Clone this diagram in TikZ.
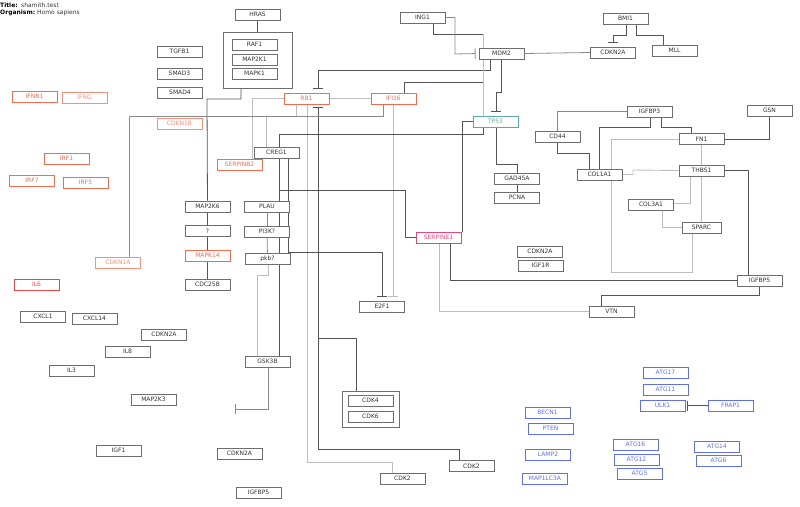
\documentclass[tikz,border=0pt]{standalone}
\usepackage{fontspec}
\setmainfont{DejaVu Sans}
\usetikzlibrary{arrows.meta, backgrounds}

\definecolor{boxgray}{HTML}{6E6E6E}
\definecolor{txtgray}{HTML}{333333}
\definecolor{salmon}{HTML}{F26B4C}
\definecolor{salmonlt}{HTML}{F5917A}
\definecolor{ilred}{HTML}{EC4545}
\definecolor{serpred}{HTML}{E8457A}
\definecolor{tealc}{HTML}{5FA8A8}
\definecolor{atgblue}{HTML}{5F6FEE}
\definecolor{dkline}{HTML}{555555}
\definecolor{ltline}{HTML}{BDBDBD}
\definecolor{mdline}{HTML}{8A8A8A}

\tikzset{
  gene/.style={draw=boxgray, fill=white, line width=0.7pt, minimum width=45pt,
    minimum height=11pt, inner sep=0pt, text=txtgray},
  redgene/.style={gene, draw=salmon, text=salmon},
  palegene/.style={gene, draw=salmonlt, text=salmonlt},
  bluegene/.style={gene, draw=atgblue, text=atgblue},
  grpbox/.style={draw=boxgray, fill=white, line width=0.7pt, inner sep=0pt},
  dk/.style={draw=dkline, line width=0.8pt},
  lt/.style={draw=ltline, line width=0.9pt},
  md/.style={draw=mdline, line width=0.8pt},
  inh/.style={-{Bar[width=10pt, line width=0.9pt]}}
}

\begin{document}
\begin{tikzpicture}[x=1pt, y=-1pt, font=\fontsize{6}{7}\selectfont]
\useasboundingbox (0,0) rectangle (800,506);

% Title
\node[anchor=base west, inner sep=0pt] (ttl) at (0,7) {\textbf{Title:}};
\node[anchor=base west, inner sep=0pt, text=txtgray] (ttlv) at (21,7) {shamith.test};
\node[anchor=base west, inner sep=0pt] (org) at (0,14.5) {\textbf{Organism:}};
\node[anchor=base west, inner sep=0pt, text=txtgray] (orgv) at (37,14.5) {Homo sapiens};

% Groups
\node[grpbox, minimum width=69pt, minimum height=56pt] (grpRAS) at (257.5,60) {};
\node[grpbox, minimum width=57pt, minimum height=36pt] (grpCDK) at (370.5,409) {};

% Nodes
\node[gene] (HRAS) at (257.5,14.5) {HRAS};
\node[gene] (RAF1) at (254.5,44.5) {RAF1};
\node[gene] (MAP2K1) at (254.5,59.5) {MAP2K1};
\node[gene] (MAPK1) at (254.5,73.5) {MAPK1};
\node[gene] (TGFB1) at (179.5,51.5) {TGFB1};
\node[gene] (SMAD3) at (179.5,73.5) {SMAD3};
\node[gene] (SMAD4) at (180,92.5) {SMAD4};
\node[redgene] (IFNB1) at (34.5,96.5) {IFNB1};
\node[palegene] (IFNG) at (84.5,97.5) {IFNG};
\node[palegene] (CDKN1B) at (179.5,123.5) {CDKN1B};
\node[redgene] (IRF1) at (66.5,158.5) {IRF1};
\node[redgene] (IRF7) at (32,180.5) {IRF7};
\node[redgene] (IRF5) at (85.5,182.5) {IRF5};
\node[palegene] (CDKN1A) at (118,262.5) {CDKN1A};
\node[gene, draw=ilred, text=ilred] (IL6) at (36.5,284.5) {IL6};
\node[gene] (CXCL1) at (43,316.5) {CXCL1};
\node[gene] (CXCL14) at (94.5,318.5) {CXCL14};
\node[gene] (CDKN2Al) at (164,334.5) {CDKN2A};
\node[gene] (IL8) at (127.5,351.5) {IL8};
\node[gene] (IL3) at (71.5,370.5) {IL3};
\node[gene] (MAP2K3) at (153.5,399.5) {MAP2K3};
\node[gene] (IGF1) at (118.5,450.5) {IGF1};

\node[redgene] (RB1) at (306.5,98.5) {RB1};
\node[redgene] (IFI16) at (393.5,98.5) {IFI16};
\node[redgene] (SERPINB2) at (239.5,164.5) {SERPINB2};
\node[gene] (CREG1) at (276.5,152.5) {CREG1};
\node[gene] (MAP2K6) at (207.5,206.5) {MAP2K6};
\node[gene] (QQ) at (207.5,231) {?};
\node[redgene] (MAPK14) at (207.5,255.5) {MAPK14};
\node[gene] (CDC25B) at (207.5,284.5) {CDC25B};
\node[gene] (PLAU) at (267,206.5) {PLAU};
\node[gene] (PI3K) at (267,231.5) {PI3K?};
\node[gene] (PKB) at (267.5,258.5) {pkb?};
\node[gene] (GSK3B) at (267.5,361.5) {GSK3B};
\node[gene] (E2F1) at (382,306.5) {E2F1};
\node[gene] (CDK4) at (370.5,400.5) {CDK4};
\node[gene] (CDK6) at (370.5,416.5) {CDK6};
\node[gene] (CDKN2Ab) at (239.5,453.5) {CDKN2A};
\node[gene] (IGFBP5b) at (258.5,492.5) {IGFBP5};
\node[gene] (CDK2a) at (471.5,466) {CDK2};
\node[gene] (CDK2b) at (402.5,478.5) {CDK2};

\node[gene] (ING1) at (422.5,17.5) {ING1};
\node[gene] (MDM2) at (501.5,53.5) {MDM2};
\node[gene] (CDKN2At) at (613,52.5) {CDKN2A};
\node[gene] (BMI1) at (625.5,18.5) {BMI1};
\node[gene] (MLL) at (674.5,50.5) {MLL};
\node[gene, draw=tealc, text=tealc] (TP53) at (495.5,121.5) {TP53};
\node[gene] (GADD45A) at (517,178.5) {GAD45A};
\node[gene] (PCNA) at (517,197.5) {PCNA};
\node[gene, draw=serpred, text=serpred] (SERPINE1) at (438.5,237.5) {SERPINE1};
\node[gene] (CDKN2Am) at (540,251.5) {CDKN2A};
\node[gene] (IGF1R) at (540.5,265.5) {IGF1R};
\node[gene] (CD44) at (557.5,136.5) {CD44};
\node[gene] (IGFBP3) at (649.5,111.5) {IGFBP3};
\node[gene] (GSN) at (769.5,110.5) {GSN};
\node[gene] (FN1) at (701.5,139) {FN1};
\node[gene] (THBS1) at (701.5,170.5) {THBS1};
\node[gene] (COL1A1) at (599.5,174.5) {COL1A1};
\node[gene] (COL3A1) at (651,204.5) {COL3A1};
\node[gene, minimum width=39pt] (SPARC) at (701.5,227.5) {SPARC};
\node[gene] (IGFBP5r) at (759.5,280.5) {IGFBP5};
\node[gene] (VTN) at (611.5,311.5) {VTN};

\node[bluegene] (ATG17) at (665.5,372.5) {ATG17};
\node[bluegene] (ATG11) at (665.5,389.5) {ATG11};
\node[bluegene] (ULK1) at (662.5,405.5) {ULK1};
\node[bluegene] (FRAP1) at (730.5,405.5) {FRAP1};
\node[bluegene] (ATG16) at (635.5,444.5) {ATG16};
\node[bluegene] (ATG12) at (636.5,459.5) {ATG12};
\node[bluegene] (ATG5) at (639.5,473.5) {ATG5};
\node[bluegene] (ATG14) at (717,446.5) {ATG14};
\node[bluegene] (ATG6) at (718.5,460.5) {ATG6};
\node[bluegene] (BECN1) at (547.5,412.5) {BECN1};
\node[bluegene] (PTEN) at (550.5,428.5) {PTEN};
\node[bluegene] (LAMP2) at (548,454.5) {LAMP2};
\node[bluegene] (MAP1LC3A) at (545,478.5) {MAP1LC3A};

\coordinate (gskT) at (235,409);

\begin{pgfonlayer}{background}
% Edges
\draw[dk] (HRAS) -- (grpRAS);
\draw[dk] (grpRAS.south -| 241,0) |- (207,99) -- (MAP2K6);
\draw[dk] (MAP2K6) -- (QQ);
\draw[dk] (QQ) -- (MAPK14);
\draw[dk] (MAPK14) -- (CDC25B);
\draw[lt] (RB1.west) -| (SERPINB2.north -| 252,0);
\draw[lt] (RB1.east) -- (IFI16.west);
\draw[dk, inh, shorten >=4pt] (MDM2.south -| 490,0) |- (318,70) -- (RB1.north -| 318,0);
\draw[dk, inh, shorten >=3pt] (CDK2a.north -| 459,0) |- (318,449) -- (RB1.south -| 318,0);
\draw[dk] (grpCDK.north -| 356,0) |- (318,338);
\draw[lt] (RB1.south -| 307,0) |- (392,462) -- (CDK2b.north -| 392,0);
\draw[lt] (RB1.south -| 296,0) |- (266,116) -- (CREG1.north -| 266,0);
\draw[md] (IFI16.south -| 383,0) |- (129,116) -- (CDKN1A.north -| 129,0);
\draw[lt, inh, shorten >=4pt] (IFI16.south -| 393,0) -- (E2F1.north -| 393,0);
\draw[dk, inh, shorten >=4pt] (CREG1.south -| 288,0) |- (382,252) -- (E2F1.north -| 382,0);
\draw[dk] (IFI16.north -| 404,0) |- (483,82);
\draw[dk] (ING1.south -| 433,0) |- (483,34);
\draw[lt] (483,34) -- (TP53.north -| 483,0);
\draw[dk] (TP53.south -| 483,0) |- (279,134) -- (GSK3B.north -| 279,0);
\draw[dk] (SERPINE1.west) -| (405,190) -- (279,190);
\draw[md, inh, shorten >=3pt] (ING1.east) -| (455,54) -- (MDM2.west);
\draw[md] (MDM2.east) -- (CDKN2At.west);
\draw[dk, inh, shorten >=4pt] (BMI1.south -| 626,0) |- (613,35) -- (CDKN2At.north -| 613,0);
\draw[dk] (BMI1.south -| 636,0) |- (663,35) -- (MLL.north -| 663,0);
\draw[dk, inh, shorten >=4pt] (MDM2.south -| 501,0) |- (496,92) -- (TP53.north -| 496,0);
\draw[dk] (TP53.south -| 496,0) |- (517,164) -- (GADD45A);
\draw[dk] (GADD45A) -- (PCNA);
\draw[dk] (TP53.west) -| (SERPINE1.north -| 462,0);
\draw[md] (PLAU) -- (PI3K);
\draw[md] (PI3K) -- (PKB);
\draw[lt] (PKB.south -| 268,0) |- (257,275) -- (GSK3B.north -| 257,0);
\draw[md, inh] (GSK3B.south -| 268,0) |- (gskT);
\draw[md] (IGFBP3.west) -| (CD44.north -| 557,0);
\draw[dk] (CD44.south -| 557,0) |- (589,153) -- (COL1A1.north -| 589,0);
\draw[dk] (IGFBP3.south -| 650,0) -- (650,127) -| (COL1A1.north);
\draw[dk] (IGFBP3.south -| 661,0) |- (691,127) -- (FN1.north -| 691,0);
\draw[lt] (FN1.west) -| (611,272) -| (SPARC.south -| 692,0);
\draw[dk] (FN1.east) -| (GSN.south -| 769,0);
\draw[lt] (FN1) -- (THBS1);
\draw[dk] (THBS1.east) -| (IGFBP5r.north -| 748,0);
\draw[lt] (COL1A1.east) -| (633,170) -- (THBS1.west);
\draw[lt] (THBS1.south -| 690,0) |- (COL3A1.east |- 0,203);
\draw[lt] (THBS1) -- (SPARC);
\draw[lt] (COL3A1.south -| 662,0) |- (SPARC.west);
\draw[dk] (IGFBP5r.west) -| (SERPINE1.south -| 450,0);
\draw[dk] (IGFBP5r.south -| 759,0) |- (601,295) -- (VTN.north -| 601,0);
\draw[lt] (SERPINE1.south -| 439,0) |- (VTN.west |- 0,311);
\draw[dk, inh, shorten >=2pt] (FRAP1.west) -- (ULK1.east);
\end{pgfonlayer}
\end{tikzpicture}
\end{document}
